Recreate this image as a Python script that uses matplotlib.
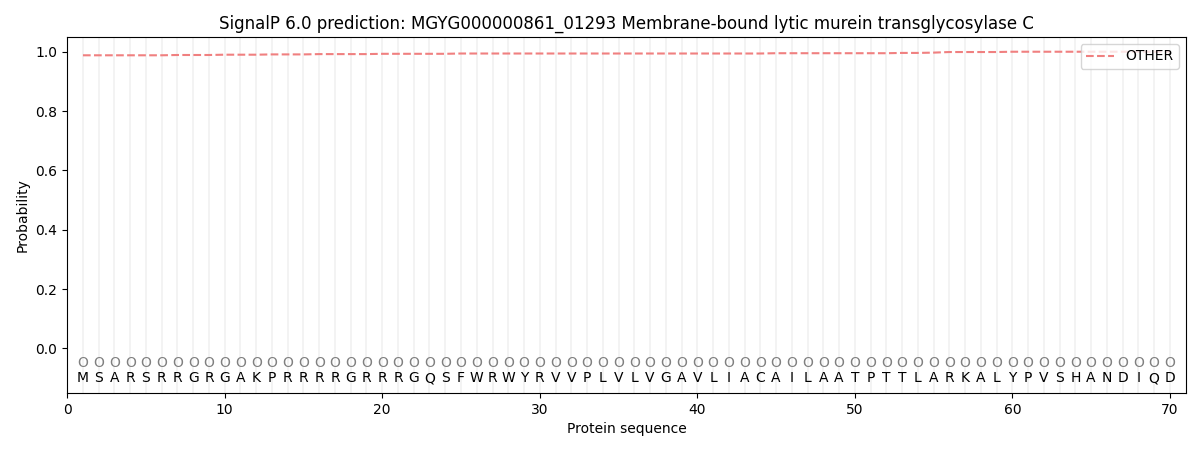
import matplotlib
matplotlib.use("Agg")
import matplotlib.pyplot as plt
import numpy as np

sequence = list("MSARSRRGRGAKPRRRRGRRRGQSFWRWYRVVPLVLVGAVLIACAILAATPTTLARKALYPVSHANDIQD")
positions = list(range(1, len(sequence) + 1))
other_prob = [0.988, 0.988, 0.988, 0.988, 0.988, 0.988, 0.989, 0.989, 0.989, 0.990,
              0.990, 0.990, 0.991, 0.991, 0.991, 0.992, 0.992, 0.992, 0.992, 0.993,
              0.993, 0.993, 0.993, 0.993, 0.994, 0.994, 0.994, 0.994, 0.994, 0.994,
              0.994, 0.994, 0.994, 0.994, 0.994, 0.994, 0.994, 0.994, 0.994, 0.994,
              0.994, 0.994, 0.994, 0.994, 0.995, 0.995, 0.995, 0.995, 0.995, 0.995,
              0.995, 0.995, 0.996, 0.996, 0.997, 0.999, 0.999, 0.999, 0.999, 1.000,
              1.000, 1.000, 1.000, 1.000, 1.000, 1.000, 1.000, 1.000, 1.000, 1.000]
labels = ["O"] * len(sequence)

fig, ax = plt.subplots(figsize=(12, 4.5), dpi=100)
for p in positions:
    ax.axvline(p, color="#e8e8e8", linewidth=1.2, alpha=0.6, zorder=0)
ax.plot(positions, other_prob, linestyle="--", color="#f08080", linewidth=1.5, label="OTHER")
for p, lab, aa in zip(positions, labels, sequence):
    ax.text(p, -0.05, lab, ha="center", va="center", fontsize=10, color="gray")
    ax.text(p, -0.1, aa, ha="center", va="center", fontsize=10, color="black")
ax.set_xlim(0, 71)
ax.set_ylim(-0.15, 1.05)
ax.set_xlabel("Protein sequence")
ax.set_ylabel("Probability")
ax.set_title("SignalP 6.0 prediction: MGYG000000861_01293 Membrane-bound lytic murein transglycosylase C")
ax.legend(loc="upper right")
fig.subplots_adjust(left=0.056, right=0.988, top=0.918, bottom=0.127)
fig.savefig("out.png")
